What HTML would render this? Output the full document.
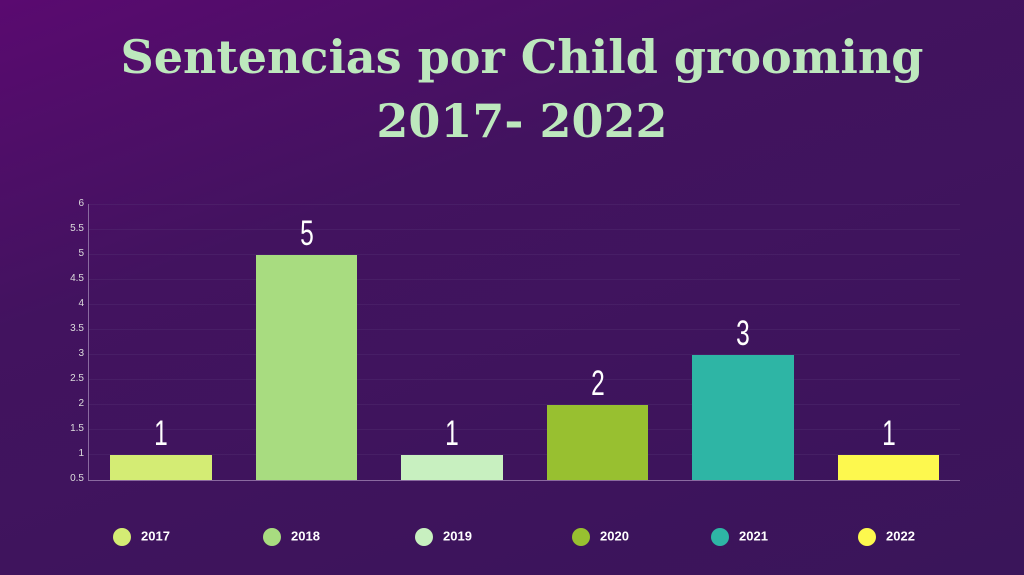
<!DOCTYPE html>
<html><head><style>
body{margin:0;width:1024px;height:575px;overflow:hidden;background:linear-gradient(160deg,#5a0a70 0%,#42135f 35%,#3a155a 100%);font-family:"Liberation Sans",sans-serif;position:relative}
h1{position:absolute;top:25px;left:20px;width:1004px;margin:0;text-align:center;font-family:"DejaVu Serif",serif;font-weight:bold;color:#bde8bd;font-size:46px;line-height:64px;letter-spacing:0px}
.yl{position:absolute;left:40px;width:44px;text-align:right;font-size:10px;color:#ddd;}
.v{position:absolute;width:102px;text-align:center;color:#fff;font-size:35px;transform:scaleX(0.7)}
.lg{position:absolute;top:528px;font-size:13px;font-weight:bold;color:#fff}
.lg i{display:inline-block;width:18px;height:18px;border-radius:50%;vertical-align:middle;margin-right:10px}
</style></head><body>
<h1>Sentencias por Child grooming<br>2017- 2022</h1>
<svg style="position:absolute;left:0;top:0" width="1024" height="575">
<g stroke="#5a3a7a" stroke-width="1" opacity="0.3">
<line x1="88" y1="204.5" x2="960" y2="204.5"/><line x1="88" y1="229.5" x2="960" y2="229.5"/><line x1="88" y1="254.5" x2="960" y2="254.5"/><line x1="88" y1="279.5" x2="960" y2="279.5"/><line x1="88" y1="304.5" x2="960" y2="304.5"/><line x1="88" y1="329.5" x2="960" y2="329.5"/><line x1="88" y1="354.5" x2="960" y2="354.5"/><line x1="88" y1="379.5" x2="960" y2="379.5"/><line x1="88" y1="404.5" x2="960" y2="404.5"/><line x1="88" y1="429.5" x2="960" y2="429.5"/><line x1="88" y1="454.5" x2="960" y2="454.5"/>
</g>
<line x1="88.5" y1="204" x2="88.5" y2="480" stroke="#8a6aa0"/>
<line x1="88" y1="480.5" x2="960" y2="480.5" stroke="#8a6aa0"/>
<rect x="110" y="455" width="102" height="25" fill="#d4ec74"/>
<rect x="256" y="255" width="101" height="225" fill="#a8dc80"/>
<rect x="401" y="455" width="102" height="25" fill="#c8f0c0"/>
<rect x="547" y="405" width="101" height="75" fill="#98c030"/>
<rect x="692" y="355" width="102" height="125" fill="#2eb5a5"/>
<rect x="838" y="455" width="101" height="25" fill="#fdf84e"/>
</svg>
<div class="yl" style="top:198px">6</div><div class="yl" style="top:223px">5.5</div><div class="yl" style="top:248px">5</div><div class="yl" style="top:273px">4.5</div><div class="yl" style="top:298px">4</div><div class="yl" style="top:323px">3.5</div><div class="yl" style="top:348px">3</div><div class="yl" style="top:373px">2.5</div><div class="yl" style="top:398px">2</div><div class="yl" style="top:423px">1.5</div><div class="yl" style="top:448px">1</div><div class="yl" style="top:473px">0.5</div>
<div class="v" style="left:110px;top:414px">1</div>
<div class="v" style="left:256px;top:214px">5</div>
<div class="v" style="left:401px;top:414px">1</div>
<div class="v" style="left:547px;top:364px">2</div>
<div class="v" style="left:692px;top:314px">3</div>
<div class="v" style="left:838px;top:414px">1</div>
<div class="lg" style="left:113px"><i style="background:#d4ec74"></i>2017</div>
<div class="lg" style="left:263px"><i style="background:#a8dc80"></i>2018</div>
<div class="lg" style="left:415px"><i style="background:#c8f0c0"></i>2019</div>
<div class="lg" style="left:572px"><i style="background:#98c030"></i>2020</div>
<div class="lg" style="left:711px"><i style="background:#2eb5a5"></i>2021</div>
<div class="lg" style="left:858px"><i style="background:#fdf84e"></i>2022</div>
</body></html>
